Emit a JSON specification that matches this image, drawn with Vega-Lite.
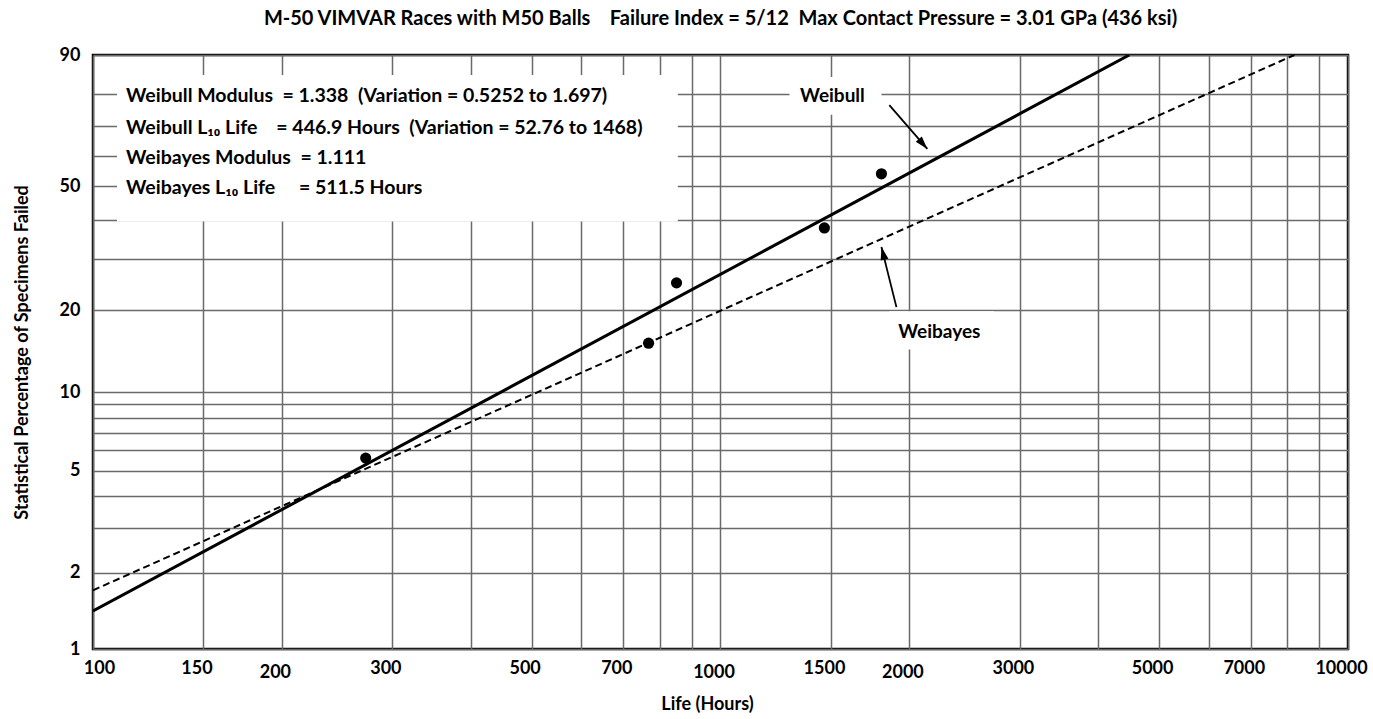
{
  "$schema": "https://vega.github.io/schema/vega-lite/v6.json",
  "width": 1255,
  "height": 594,
  "autosize": {"type": "none"},
  "padding": {"left": 93, "top": 55, "right": 25, "bottom": 70},
  "background": "white",
  "title": {
    "text": "M-50 VIMVAR Races with M50 Balls \u00a0\u00a0\u00a0Failure Index = 5/12 \u00a0Max Contact Pressure = 3.01 GPa (436 ksi)",
    "font": "Lato", "fontSize": 20, "fontWeight": "bold", "color": "black",
    "anchor": "middle", "frame": "group", "offset": 17
  },
  "config": {
    "view": {"stroke": "black", "strokeWidth": 2.5},
    "axis": {
      "labelFont": "Lato", "labelFontWeight": "bold", "labelFontSize": 18, "labelColor": "black",
      "titleFont": "Lato", "titleFontWeight": "bold", "titleColor": "black", "titleFontSize": 18,
      "gridColor": "#6a6a6a", "gridWidth": 1.5, "gridOpacity": 1,
      "domain": false, "ticks": false, "labelOverlap": false, "labelFlush": false, "labelBound": false
    }
  },
  "datasets": {
    "failures": [
      {"hours": 272, "pct": 5.6},
      {"hours": 768, "pct": 15.2},
      {"hours": 851, "pct": 24.9},
      {"hours": 1464, "pct": 37.7},
      {"hours": 1805, "pct": 54.0}
    ],
    "fits": [
      {"series": "Weibull", "hours": 100, "pct": 1.414},
      {"series": "Weibull", "hours": 4482, "pct": 90},
      {"series": "Weibayes", "hours": 100, "pct": 1.705},
      {"series": "Weibayes", "hours": 8213, "pct": 90}
    ],
    "boxes": [
      {"name": "stats", "hours": 109.2, "hours2": 855, "pct": 39.5, "pct2": 85.3},
      {"name": "Weibull", "hours": 1288, "hours2": 1805, "pct": 73.6, "pct2": 84.8},
      {"name": "Weibayes", "hours": 1858, "hours2": 2731, "pct": 14.4, "pct2": 19.8}
    ],
    "arrows": [
      {"name": "Weibull", "hours": 1858, "pct": 76.7, "hours2": 2136, "pct2": 62.3},
      {"name": "Weibayes", "hours": 1907, "pct": 20.5, "hours2": 1805, "pct2": 32.8}
    ],
    "tips": [
      {"name": "Weibull", "hours": 2136, "pct": 62.3},
      {"name": "Weibayes", "hours": 1805, "pct": 32.8}
    ],
    "notes": [
      {"kind": "stats", "hours": 112.9, "pct": 80, "text": "Weibull Modulus \u00a0= 1.338 \u00a0(Variation = 0.5252 to 1.697)"},
      {"kind": "stats", "hours": 112.9, "pct": 70, "text": "Weibull L\u2081\u2080 Life \u00a0\u00a0\u00a0= 446.9 Hours \u00a0(Variation = 52.76 to 1468)"},
      {"kind": "stats", "hours": 112.9, "pct": 60, "text": "Weibayes Modulus \u00a0= 1.111"},
      {"kind": "stats", "hours": 112.9, "pct": 50, "text": "Weibayes L\u2081\u2080 Life \u00a0\u00a0\u00a0\u00a0= 511.5 Hours"},
      {"kind": "label", "hours": 1508, "pct": 79.5, "text": "Weibull"},
      {"kind": "label", "hours": 2232, "pct": 16.7, "text": "Weibayes"}
    ]
  },
  "encoding": {
    "x": {
      "field": "hours", "type": "quantitative",
      "scale": {"type": "log", "domain": [100, 10000], "nice": false},
      "axis": {
        "title": "Life (Hours)",
        "values": [100, 150, 200, 300, 400, 500, 600, 700, 800, 900, 1000, 1500, 2000, 3000, 4000, 5000, 6000, 7000, 8000, 9000, 10000],
        "labelExpr": "indexof([100,150,200,300,500,700,1000,1500,2000,3000,5000,7000,10000], datum.value) >= 0 ? '' + datum.value : ''",
        "labelPadding": {"condition": {"test": "indexof([200,1000,2000], datum.value) >= 0", "value": 14}, "value": 10},
        "labelOffset": {"condition": {"test": "datum.value == 100", "value": 6}, "value": -7},
        "titleX": 614, "titleY": 55, "titleBaseline": "middle", "titleAlign": "center"
      }
    },
    "y": {
      "field": "H", "type": "quantitative",
      "scale": {"type": "log", "domain": [0.01005034, 2.30258509], "nice": false},
      "axis": {
        "title": "Statistical Percentage of Specimens Failed",
        "values": [0.01005034, 0.02020271, 0.03045921, 0.04082199, 0.05129329, 0.0618754, 0.07257069, 0.08338161, 0.09431068, 0.10536052, 0.22314355, 0.35667494, 0.51082562, 0.69314718, 0.91629073, 1.2039728, 1.60943791, 2.30258509],
        "labelExpr": "indexof([1,2,5,10,20,50,90], round(100*(1-exp(-datum.value)))) >= 0 ? '' + round(100*(1-exp(-datum.value))) : ''",
        "labelPadding": 13,
        "titleX": -71, "titleY": 297, "titleAngle": -90, "titleBaseline": "middle", "titleAlign": "center"
      }
    }
  },
  "layer": [
    {
      "data": {"name": "boxes"},
      "transform": [
        {"calculate": "-log(1 - datum.pct/100)", "as": "H"},
        {"calculate": "-log(1 - datum.pct2/100)", "as": "H2"}
      ],
      "mark": {"type": "rect", "fill": "white", "stroke": null},
      "encoding": {"x2": {"field": "hours2"}, "y2": {"field": "H2"}}
    },
    {
      "data": {"name": "fits"},
      "transform": [
        {"filter": "datum.series == 'Weibayes'"},
        {"calculate": "-log(1 - datum.pct/100)", "as": "H"}
      ],
      "mark": {"type": "line", "color": "black", "strokeWidth": 2, "strokeDash": [7, 4], "clip": true},
      "encoding": {}
    },
    {
      "data": {"name": "fits"},
      "transform": [
        {"filter": "datum.series == 'Weibull'"},
        {"calculate": "-log(1 - datum.pct/100)", "as": "H"}
      ],
      "mark": {"type": "line", "color": "black", "strokeWidth": 3, "clip": true},
      "encoding": {}
    },
    {
      "data": {"name": "failures"},
      "transform": [{"calculate": "-log(1 - datum.pct/100)", "as": "H"}],
      "mark": {"type": "circle", "color": "black", "size": 125, "opacity": 1},
      "encoding": {}
    },
    {
      "data": {"name": "arrows"},
      "transform": [
        {"calculate": "-log(1 - datum.pct/100)", "as": "H"},
        {"calculate": "-log(1 - datum.pct2/100)", "as": "H2"}
      ],
      "mark": {"type": "rule", "color": "black", "strokeWidth": 1.8},
      "encoding": {"x2": {"field": "hours2"}, "y2": {"field": "H2"}}
    },
    {
      "data": {"name": "tips"},
      "transform": [
        {"filter": "datum.name == 'Weibull'"},
        {"calculate": "-log(1 - datum.pct/100)", "as": "H"}
      ],
      "mark": {"type": "point", "shape": "M0,0L-0.8,2.6L0.8,2.6Z", "filled": true, "color": "black", "size": 100, "opacity": 1, "angle": 139},
      "encoding": {}
    },
    {
      "data": {"name": "tips"},
      "transform": [
        {"filter": "datum.name == 'Weibayes'"},
        {"calculate": "-log(1 - datum.pct/100)", "as": "H"}
      ],
      "mark": {"type": "point", "shape": "M0,0L-0.8,2.6L0.8,2.6Z", "filled": true, "color": "black", "size": 100, "opacity": 1, "angle": 346},
      "encoding": {}
    },
    {
      "data": {"name": "notes"},
      "transform": [
        {"filter": "datum.kind == 'stats'"},
        {"calculate": "-log(1 - datum.pct/100)", "as": "H"}
      ],
      "mark": {"type": "text", "align": "left", "baseline": "middle", "dy": 2, "font": "Lato", "fontWeight": "bold", "fontSize": 19.5, "color": "black"},
      "encoding": {"text": {"field": "text"}}
    },
    {
      "data": {"name": "notes"},
      "transform": [
        {"filter": "datum.kind == 'label'"},
        {"calculate": "-log(1 - datum.pct/100)", "as": "H"}
      ],
      "mark": {"type": "text", "align": "center", "baseline": "middle", "font": "Lato", "fontWeight": "bold", "fontSize": 19, "color": "black"},
      "encoding": {"text": {"field": "text"}}
    }
  ]
}
